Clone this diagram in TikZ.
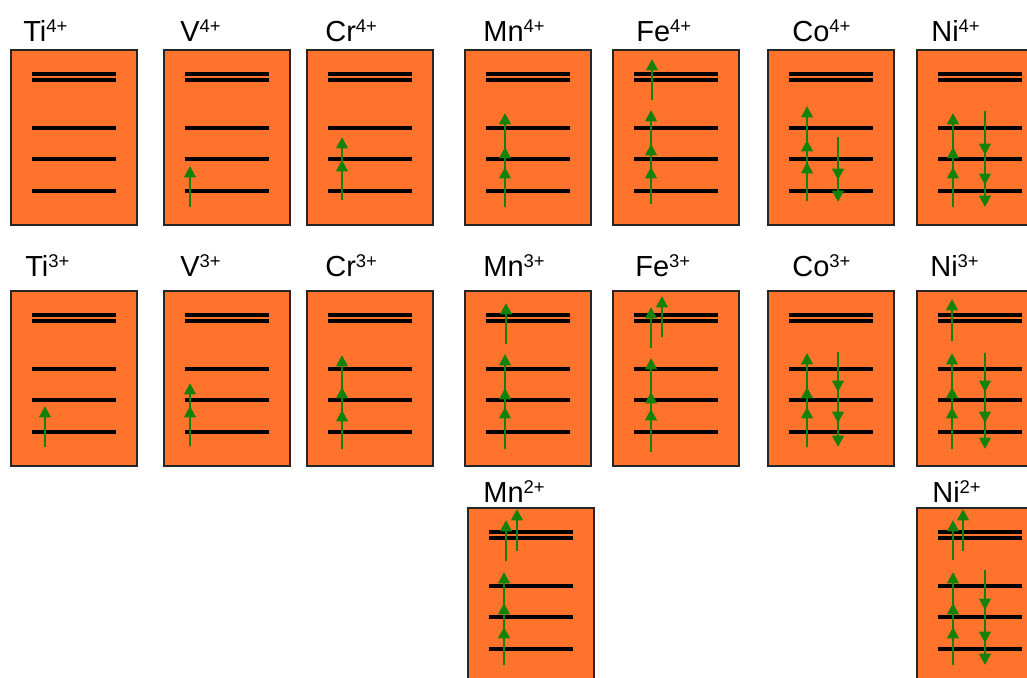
\documentclass[tikz,border=0pt]{standalone}
\usepackage{fontspec}
\setmainfont{Liberation Sans}
\usetikzlibrary{arrows.meta}
\definecolor{panelorange}{RGB}{255,115,45}
\definecolor{spingreen}{RGB}{20,130,10}
\tikzset{
  panel/.style={draw=black!85, line width=0.9pt, fill=panelorange},
  level/.style={line width=1.8pt},
  spin/.style={spingreen, line width=1.6pt, -{Triangle[length=6.5pt,width=6.5pt]}},
  ionlbl/.style={anchor=base west, inner sep=0pt, font=\fontsize{16.5}{18}\selectfont}
}
\newcommand{\ionname}[2]{#1\raisebox{5pt}{\fontsize{10.5}{10.5}\selectfont #2}}
% one d-level panel: left, top, electrons
\newcommand{\ionpanel}[3]{%
  \begin{scope}[shift={(#1,#2)}]
  \draw[panel] (0,0) rectangle (126,175);
  \foreach \dy in {24,30,78,109,141}
    \draw[level] (21,\dy) -- (105,\dy);
  #3
  \end{scope}}
% stacked spins: x, start, list of tips
\newcommand{\spins}[3]{\foreach \tip in {#3} \draw[spin] (#1,#2) -- (#1,\tip);}
\begin{document}
\begin{tikzpicture}[x={(0.02cm,0)}, y={(0,-0.02cm)}]
\useasboundingbox (0,0) rectangle (1027,677);
\clip (0,0) rectangle (1027,677);

% 4+ row
\node[ionlbl] (ti4) at (23,41) {\ionname{Ti}{4+}};
\node[ionlbl] (v4) at (180,41) {\ionname{V}{4+}};
\node[ionlbl] (cr4) at (325,41) {\ionname{Cr}{4+}};
\node[ionlbl] (mn4) at (483,41) {\ionname{Mn}{4+}};
\node[ionlbl] (fe4) at (636,41) {\ionname{Fe}{4+}};
\node[ionlbl] (co4) at (792,41) {\ionname{Co}{4+}};
\node[ionlbl] (ni4) at (931,41) {\ionname{Ni}{4+}};
\ionpanel{11}{50}{}
\ionpanel{164}{50}{\spins{26}{157}{116}}
\ionpanel{307}{50}{\spins{35}{150}{110,87}}
\ionpanel{465}{50}{\spins{40}{157}{117,97,63}}
\ionpanel{613}{50}{\spins{38}{154}{117,94,60}\spins{39}{50}{9}}
\ionpanel{768}{50}{\spins{39}{151}{112,90,56}\spins{70}{87}{130,152}}
\ionpanel{917}{50}{\spins{36}{157}{117,97,63}\spins{68}{61}{105,135,157}}

% 3+ row
\node[ionlbl] (ti3) at (25,276) {\ionname{Ti}{3+}};
\node[ionlbl] (v3) at (180,276) {\ionname{V}{3+}};
\node[ionlbl] (cr3) at (325,276) {\ionname{Cr}{3+}};
\node[ionlbl] (mn3) at (483,276) {\ionname{Mn}{3+}};
\node[ionlbl] (fe3) at (635,276) {\ionname{Fe}{3+}};
\node[ionlbl] (co3) at (792,276) {\ionname{Co}{3+}};
\node[ionlbl] (ni3) at (930,276) {\ionname{Ni}{3+}};
\ionpanel{11}{291}{\spins{34}{156}{115}}
\ionpanel{164}{291}{\spins{26}{155}{115,92}}
\ionpanel{307}{291}{\spins{35}{158}{119,96,64}}
\ionpanel{465}{291}{\spins{40}{158}{116,97,63}\spins{41}{53}{12}}
\ionpanel{613}{291}{\spins{38}{161}{118,101,67}\spins{38}{57}{16}\spins{49}{46}{5}}
\ionpanel{768}{291}{\spins{39}{156}{116,96,62}\spins{70}{61}{101,132,156}}
\ionpanel{917}{291}{\spins{35}{158}{116,96,62}\spins{35}{50}{8}\spins{68}{62}{101,132,158}}

% 2+ row
\node[ionlbl] (mn2) at (483,502) {\ionname{Mn}{2+}};
\node[ionlbl] (ni2) at (932,502) {\ionname{Ni}{2+}};
\ionpanel{468}{508}{\spins{36}{157}{119,95,64}\spins{38}{53}{12}\spins{49}{43}{1}}
\ionpanel{917}{508}{\spins{36}{157}{119,95,64}\spins{36}{52}{12}\spins{46}{43}{1}\spins{68}{62}{102,135,157}}
\end{tikzpicture}
\end{document}
